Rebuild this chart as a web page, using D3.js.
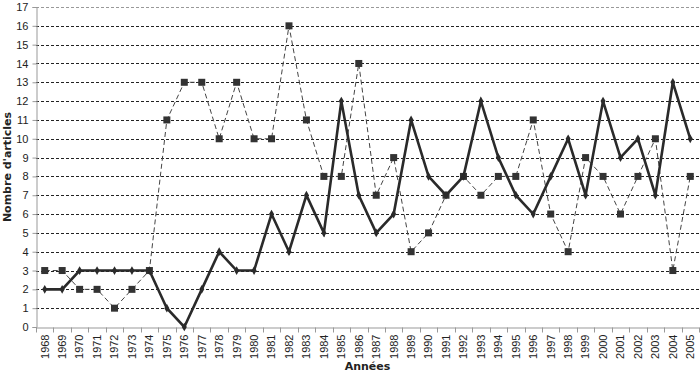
<!DOCTYPE html>
<html>
<head>
<meta charset="utf-8">
<script src="https://cdn.jsdelivr.net/npm/d3@7"></script>
<style>
  body { margin: 0; background: #fff; }
  svg { display: block; font-family: Verdana, "DejaVu Sans", sans-serif; }
</style>
</head>
<body>
<div id="chart"></div>
<script>
// years on the x axis
const years = d3.range(1968, 2006).map(String);
// solid line (diamonds)
const solidValues = [2, 2, 3, 3, 3, 3, 3, 1, 0, 2, 4, 3, 3, 6, 4, 7, 5, 12, 7, 5,
  6, 11, 8, 7, 8, 12, 9, 7, 6, 8, 10, 7, 12, 9, 10, 7, 13, 10];
// dashed line (squares)
const dashedValues = [3, 3, 2, 2, 1, 2, 3, 11, 13, 13, 10, 13, 10, 10, 16, 11, 8, 8, 14, 7,
  9, 4, 5, 7, 8, 7, 8, 8, 11, 6, 4, 9, 8, 6, 8, 10, 3, 8];
const yTicks = d3.range(0, 18);

const width = 700, height = 374;
const margin = { left: 36, right: 1, top: 7, bottom: 47 };
const w = width - margin.left - margin.right;
const h = height - margin.top - margin.bottom;

const svg = d3.select('#chart').append('svg')
  .attr('width', width)
  .attr('height', height);

const g = svg.append('g')
  .attr('transform', `translate(${margin.left},${margin.top})`);

const x = d3.scaleBand().domain(years).range([0, w]);
const y = d3.scaleLinear().domain([0, 17]).range([h, 0]);
const cx = (d) => x(d) + x.bandwidth() / 2;

// gridlines
g.append('g').attr('class', 'grid')
  .selectAll('line')
  .data(yTicks.filter(d => d > 0))
  .join('line')
  .attr('x1', 0).attr('x2', w)
  .attr('y1', d => Math.round(y(d)) + 0.5).attr('y2', d => Math.round(y(d)) + 0.5)
  .style('stroke', d => d === 17 ? '#999' : '#222')
  .style('stroke-width', 1)
  .style('stroke-dasharray', '3,2');

// y axis
const yAxis = g.append('g')
  .attr('transform', 'translate(0.5,0)')
  .call(d3.axisLeft(y).tickValues(yTicks).tickSize(4).tickPadding(4).tickFormat(d3.format('d')));
yAxis.select('.domain').style('stroke', '#999');
yAxis.selectAll('.tick line').style('stroke', '#999');
yAxis.selectAll('text').style('font-size', '11px').style('fill', '#222');

// x axis
const xAxis = g.append('g')
  .attr('transform', `translate(0,${Math.round(h) + 0.5})`)
  .call(d3.axisBottom(x).tickSize(0).tickPadding(0));
xAxis.select('.domain').style('stroke', '#999');
xAxis.selectAll('text')
  .style('font-size', '11px')
  .style('fill', '#222')
  .attr('text-anchor', 'end')
  .attr('transform', 'rotate(-90)')
  .attr('x', -7)
  .attr('y', 0)
  .attr('dy', '0.35em');
// tick marks at category boundaries
xAxis.append('g').selectAll('line')
  .data(years.concat(['end']))
  .join('line')
  .attr('x1', (d, i) => Math.round(i * x.bandwidth()) + 0.5)
  .attr('x2', (d, i) => Math.round(i * x.bandwidth()) + 0.5)
  .attr('y1', 0).attr('y2', 5)
  .style('stroke', '#999');

// dashed series
const lineDashed = d3.line().x((d, i) => cx(years[i])).y(d => y(d));
g.append('path')
  .datum(dashedValues)
  .attr('d', lineDashed)
  .style('fill', 'none')
  .style('stroke', '#444')
  .style('stroke-width', 1)
  .style('stroke-dasharray', '5,3');
g.append('g').selectAll('rect')
  .data(dashedValues)
  .join('rect')
  .attr('x', (d, i) => cx(years[i]) - 3.5)
  .attr('y', d => y(d) - 3.5)
  .attr('width', 7).attr('height', 7)
  .style('fill', '#333');

// solid series
const lineSolid = d3.line().x((d, i) => cx(years[i])).y(d => y(d));
g.append('path')
  .datum(solidValues)
  .attr('d', lineSolid)
  .style('fill', 'none')
  .style('stroke', '#2a2a2a')
  .style('stroke-width', 2.6)
  .style('stroke-linejoin', 'miter');
g.append('g').selectAll('path')
  .data(solidValues)
  .join('path')
  .attr('d', d3.symbol().type(d3.symbolDiamond).size(22))
  .attr('transform', (d, i) => `translate(${cx(years[i])},${y(d)})`)
  .style('fill', '#2a2a2a');

// axis titles
svg.append('text')
  .attr('x', margin.left + w / 2)
  .attr('y', 370)
  .attr('text-anchor', 'middle')
  .style('font-size', '11px')
  .style('font-weight', 'bold')
  .style('fill', '#222')
  .text('Années');

svg.append('text')
  .attr('transform', `translate(11,${margin.top + h / 2}) rotate(-90)`)
  .attr('text-anchor', 'middle')
  .style('font-size', '11px')
  .style('font-weight', 'bold')
  .style('fill', '#222')
  .text("Nombre d'articles");
</script>
</body>
</html>
